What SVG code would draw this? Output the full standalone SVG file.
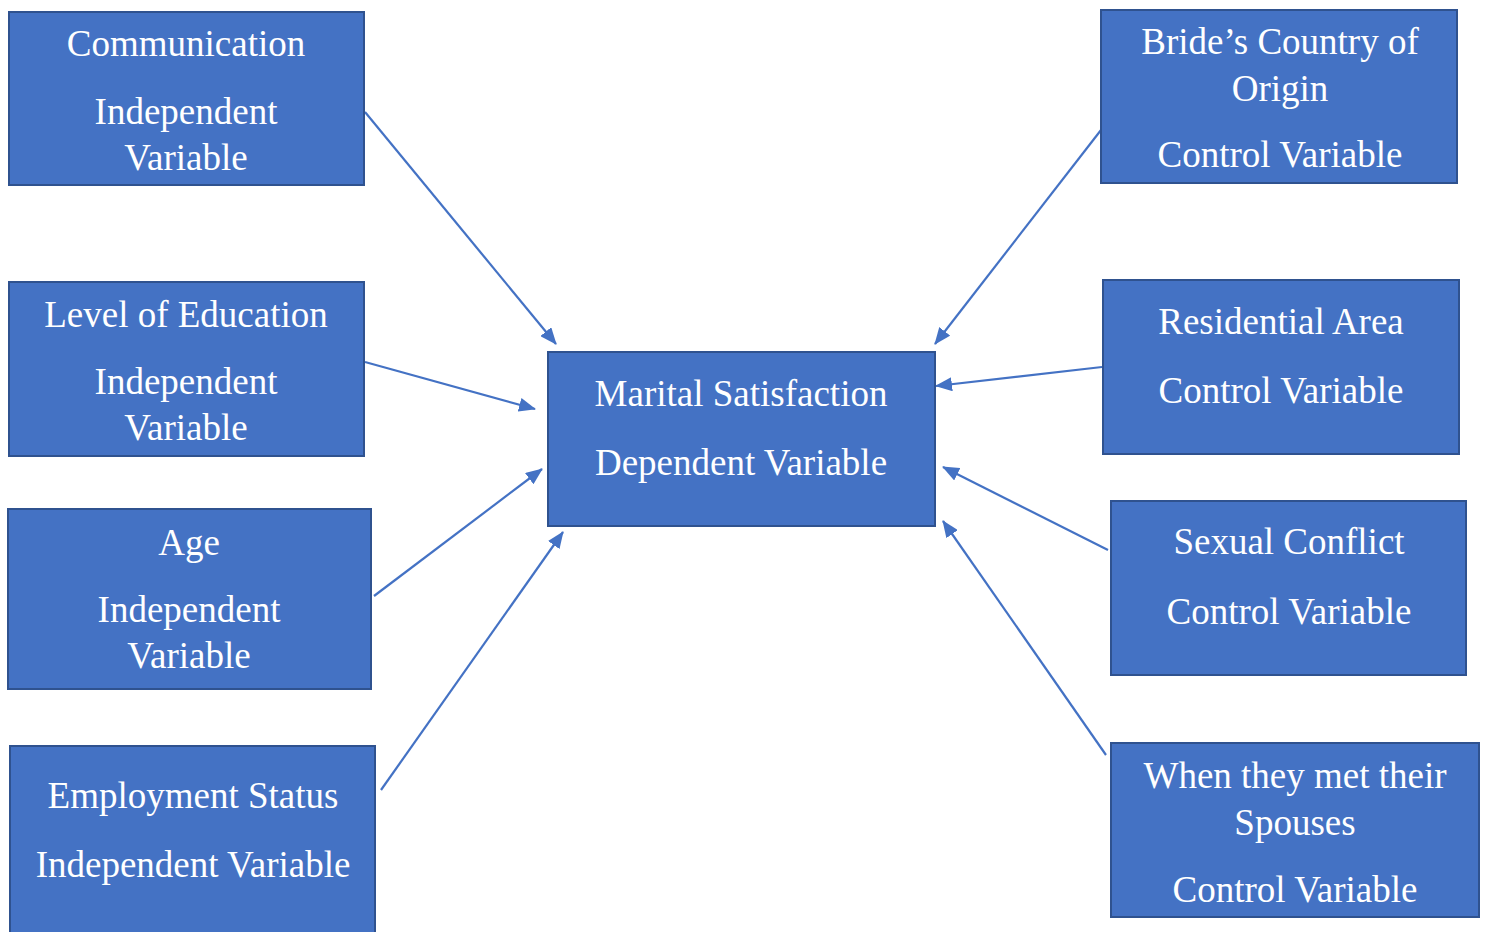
<svg xmlns="http://www.w3.org/2000/svg" width="1486" height="932" viewBox="0 0 1486 932">
<style>
.box{fill:#4472C4;stroke:#2F528F;stroke-width:2}
.t{font-family:"Liberation Serif","Times New Roman",serif;font-size:37px;fill:#fff;text-anchor:middle}
.c{stroke:#4472C4;stroke-width:2.2;fill:none;marker-end:url(#ah)}
</style>
<defs>
<marker id="ah" markerUnits="userSpaceOnUse" markerWidth="17" markerHeight="14" refX="16" refY="7" orient="auto">
<path d="M0,0 L17,7 L0,14 Z" fill="#4472C4"/>
</marker>
</defs>
<rect width="1486" height="932" fill="#fff"/>
<g id="connectors">
<line class="c" x1="365" y1="112" x2="556" y2="344"/>
<line class="c" x1="365" y1="362" x2="535" y2="409"/>
<line class="c" x1="374" y1="596" x2="542" y2="469"/>
<line class="c" x1="381" y1="790" x2="563" y2="532"/>
<line class="c" x1="1101" y1="130" x2="935" y2="344"/>
<line class="c" x1="1102" y1="367" x2="936" y2="386"/>
<line class="c" x1="1108" y1="550" x2="943" y2="467"/>
<line class="c" x1="1106" y1="755" x2="943" y2="521"/>
</g>
<g id="communication">
<rect class="box" x="9" y="12" width="355" height="173"/>
<text class="t" x="186" y="56">Communication</text>
<text class="t" x="186" y="124">Independent</text>
<text class="t" x="186" y="170">Variable</text>
</g>
<g id="education">
<rect class="box" x="9" y="282" width="355" height="174"/>
<text class="t" x="186" y="327">Level of Education</text>
<text class="t" x="186" y="394">Independent</text>
<text class="t" x="186" y="440">Variable</text>
</g>
<g id="age">
<rect class="box" x="8" y="509" width="363" height="180"/>
<text class="t" x="189" y="555">Age</text>
<text class="t" x="189" y="622">Independent</text>
<text class="t" x="189" y="668">Variable</text>
</g>
<g id="employment">
<rect class="box" x="10" y="746" width="365" height="195"/>
<text class="t" x="193" y="808">Employment Status</text>
<text class="t" x="193" y="877">Independent Variable</text>
</g>
<g id="marital">
<rect class="box" x="548" y="352" width="387" height="174"/>
<text class="t" x="741" y="406">Marital Satisfaction</text>
<text class="t" x="741" y="475">Dependent Variable</text>
</g>
<g id="bride">
<rect class="box" x="1101" y="10" width="356" height="173"/>
<text class="t" x="1280" y="54">Bride’s Country of</text>
<text class="t" x="1280" y="101">Origin</text>
<text class="t" x="1280" y="167">Control Variable</text>
</g>
<g id="residential">
<rect class="box" x="1103" y="280" width="356" height="174"/>
<text class="t" x="1281" y="334">Residential Area</text>
<text class="t" x="1281" y="403">Control Variable</text>
</g>
<g id="sexual">
<rect class="box" x="1111" y="501" width="355" height="174"/>
<text class="t" x="1289" y="554">Sexual Conflict</text>
<text class="t" x="1289" y="624">Control Variable</text>
</g>
<g id="met">
<rect class="box" x="1111" y="743" width="368" height="174"/>
<text class="t" x="1295" y="788">When they met their</text>
<text class="t" x="1295" y="835">Spouses</text>
<text class="t" x="1295" y="902">Control Variable</text>
</g>
</svg>
